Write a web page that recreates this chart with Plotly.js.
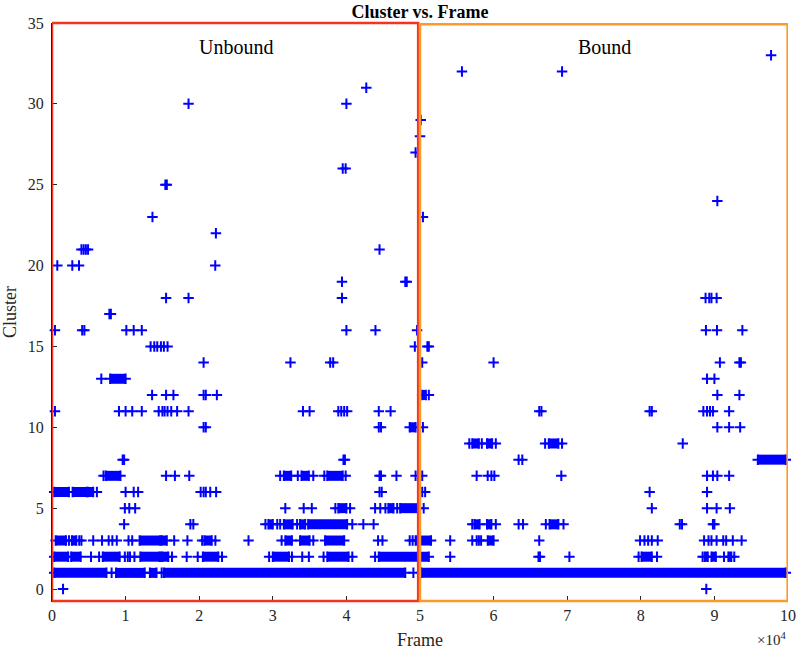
<!DOCTYPE html>
<html>
<head>
<meta charset="utf-8">
<script src="https://cdn.plot.ly/plotly-3.0.1.min.js"></script>
<style>
  html, body { margin: 0; padding: 0; background: #fff; }
  #chart { width: 800px; height: 652px; }
</style>
</head>
<body>
<div id="chart"></div>
<script>
// Cluster id of every frame.
// Single frames: [cluster, frame, frame, ...]
const singleFrames = [
    [0, 1500, 88900],
    [1, 8100, 14900, 49100],
    [2, 5300, 6400, 9900, 10300, 10600, 11200, 14800, 16300, 18300, 19800, 23100, 29500, 32600, 34000, 34900,
        36900, 40800, 43900, 54100, 66100, 66300, 70300, 79700, 82200, 88400, 91300, 92700],
    [3, 2300, 3700, 4000, 5600, 6800, 7700, 8200, 8800, 10400, 10900, 16600, 18400, 20400, 22200, 26700, 31200,
        35500, 44300, 44900, 48600, 49000, 54100, 57100, 57700, 58000, 58300, 66200, 79900, 80500, 81000, 81500,
        82300, 88600, 89200, 89600, 90300, 91200, 91600, 92500, 93700],
    [4, 9800, 18800, 19200, 29000, 30600, 31000, 33300, 40800, 42300, 43700, 57100, 60300, 63400, 64000, 67100,
        69500, 85300, 85600, 89800, 90000],
    [5, 9900, 10500, 11300, 31700, 34200, 35300, 38500, 40500, 43900, 44600, 45300, 46900, 50500, 81500, 89000,
        90300, 92100],
    [6, 6100, 10000, 11100, 11700, 20200, 20600, 20900, 21500, 22300, 44500, 44800, 50300, 50700, 81200, 89000],
    [7, 7000, 15500, 16700, 18650, 31000, 33400, 35500, 37000, 39900, 44500, 44700, 46800, 49400, 50300, 57700,
        59200, 59700, 60100, 69200, 89000, 89800, 90400, 92000],
    [8, 9600, 9800, 39600, 39800, 63400, 63900],
    [9, 56700, 58400, 60300, 67000, 69300, 85700],
    [10, 20600, 20900, 44400, 44700, 50400, 90400, 92000, 93500],
    [11, 400, 9100, 10000, 10900, 12200, 14500, 15000, 15300, 15700, 16200, 17000, 18550, 34100, 35000, 38900,
        39300, 39700, 40100, 44400, 46000, 66200, 66500, 81200, 81500, 88500, 89000, 89400, 89800, 92000],
    [12, 13600, 15500, 16500, 20600, 20900, 22400, 51200, 90400, 93400],
    [13, 6700, 89000, 90000],
    [14, 20600, 32400, 37800, 38200, 50300, 60000, 90750, 93400, 93600],
    [15, 13400, 13900, 14300, 14800, 15200, 15700, 49300, 51000, 51200],
    [16, 400, 4100, 4400, 10100, 11100, 12200, 40000, 43950, 49600, 88850, 90350, 93800],
    [17, 7800, 8000],
    [18, 15500, 18550, 39400, 88800, 89300, 89600, 90300],
    [19, 39400, 48000, 48200],
    [20, 720, 2760, 3670, 22180],
    [21, 4000, 4300, 4600, 4900, 44500],
    [22, 22270],
    [23, 13650, 50400],
    [24, 90400],
    [25, 15400, 15600],
    [26, 39500, 39900],
    [27, 49400],
    [28, 50000],
    [29, 50100],
    [30, 18550, 40000],
    [31, 42700],
    [32, 55700, 69300],
    [33, 97700]
];

// Long unbroken stretches of frames: [cluster, first frame, last frame]
const frameRuns = [
    [1, 300, 7400], [1, 8700, 12600], [1, 13300, 14200], [1, 15200, 48000], [1, 50200, 99700],
    [2, 300, 2200], [2, 2600, 3900], [2, 6900, 9200], [2, 12000, 14600], [2, 15000, 15800], [2, 20500, 22600],
    [2, 30000, 32200], [2, 37400, 40300], [2, 44400, 51200], [2, 80100, 81500], [2, 88700, 89100],
    [2, 89600, 90200], [2, 91900, 92300],
    [3, 500, 1900], [3, 2700, 3300], [3, 11900, 14700], [3, 14900, 15600], [3, 20700, 21700], [3, 31700, 32600],
    [3, 33700, 35000], [3, 37100, 39700], [3, 49400, 51500], [3, 59200, 60000],
    [4, 29400, 30000], [4, 31500, 32700], [4, 33700, 34400], [4, 34800, 40100], [4, 57400, 58100],
    [4, 59100, 59700], [4, 67600, 68800],
    [5, 38900, 40000], [5, 45700, 46400], [5, 47300, 49800],
    [6, 300, 2300], [6, 2800, 4700], [6, 4900, 5600],
    [7, 7300, 9300], [7, 31500, 32500], [7, 33900, 34900], [7, 37400, 39500],
    [8, 95900, 99700],
    [9, 57100, 58000], [9, 59100, 59800], [9, 67500, 68800],
    [10, 48600, 49400],
    [12, 50300, 50800],
    [13, 7900, 10000]
];

const xTickVals = [0, 10000, 20000, 30000, 40000, 50000, 60000, 70000, 80000, 90000, 100000];
const xTickText = ['0', '1', '2', '3', '4', '5', '6', '7', '8', '9', '10'];
const yTickVals = [0, 5, 10, 15, 20, 25, 30, 35];

// =========================================================================

const serif = 'Liberation Serif, Times New Roman, serif';
const blue = '#0000ff';

const plusMarker = {
    symbol: 'cross-thin',
    size: 7.5,
    color: blue,
    line: { color: blue, width: 2 }
};

let runX = [];
let runY = [];
frameRuns.forEach(([cluster, first, last]) => {
    runX.push(first, last, null);
    runY.push(cluster, cluster, null);
});

let pointX = [];
let pointY = [];
singleFrames.forEach(([cluster, ...frames]) => {
    frames.forEach((frame) => {
        pointX.push(frame);
        pointY.push(cluster);
    });
});

const data = [
    {
        x: runX,
        y: runY,
        type: 'scatter',
        mode: 'lines+markers',
        line: { color: blue, width: 10 },
        marker: plusMarker,
        cliponaxis: false,
        hoverinfo: 'x+y'
    },
    {
        x: pointX,
        y: pointY,
        type: 'scatter',
        mode: 'markers',
        marker: plusMarker,
        cliponaxis: false,
        hoverinfo: 'x+y'
    }
];

const layout = {
    width: 800,
    height: 652,
    margin: { l: 52, r: 12, t: 23, b: 51 },
    paper_bgcolor: '#ffffff',
    plot_bgcolor: '#ffffff',
    showlegend: false,
    font: { family: serif, size: 16, color: '#262626' },
    title: {
        text: '<b>Cluster vs. Frame</b>',
        font: { family: serif, size: 18, color: '#000000' },
        xref: 'paper',
        x: 0.5,
        yref: 'container',
        y: 0.982,
        yanchor: 'middle'
    },
    xaxis: {
        range: [0, 100000],
        tickmode: 'array',
        tickvals: xTickVals,
        ticktext: xTickText,
        ticks: 'inside',
        ticklen: 5,
        tickwidth: 1,
        tickcolor: '#262626',
        showgrid: false,
        zeroline: false,
        showline: true,
        linecolor: '#262626',
        tickfont: { family: serif, size: 16, color: '#262626' },
        title: { text: 'Frame', font: { family: serif, size: 18, color: '#262626' }, standoff: 10 }
    },
    yaxis: {
        range: [-0.74, 35],
        tickmode: 'array',
        tickvals: yTickVals,
        ticks: 'inside',
        ticklen: 5,
        tickwidth: 1,
        tickcolor: '#262626',
        showgrid: false,
        zeroline: false,
        showline: true,
        linecolor: '#262626',
        ticklabelstandoff: 4,
        tickfont: { family: serif, size: 16, color: '#262626' },
        title: { text: 'Cluster', font: { family: serif, size: 18, color: '#262626' }, standoff: 8 }
    },
    shapes: [
        {
            type: 'rect', layer: 'above',
            xref: 'x', yref: 'paper',
            x0: 0, x1: 49750, y0: 0, y1: 1,
            line: { color: '#f5331f', width: 2.5 }
        },
        {
            type: 'rect', layer: 'above',
            xref: 'x', yref: 'paper',
            x0: 50000, x1: 99950, y0: 0, y1: 0.998,
            line: { color: '#fd9a28', width: 2.5 }
        }
    ],
    annotations: [
        {
            text: 'Unbound', x: 25000, y: 33.5, xref: 'x', yref: 'y',
            showarrow: false, font: { family: serif, size: 20, color: '#000000' }
        },
        {
            text: 'Bound', x: 75000, y: 33.5, xref: 'x', yref: 'y',
            showarrow: false, font: { family: serif, size: 20, color: '#000000' }
        },
        {
            text: '\u00d710<sup>4</sup>', x: 1, y: -0.066, xref: 'paper', yref: 'paper',
            xanchor: 'right', yanchor: 'middle',
            showarrow: false, font: { family: serif, size: 15, color: '#262626' }
        }
    ]
};

const config = { staticPlot: true, displayModeBar: false };

Plotly.newPlot('chart', data, layout, config);
</script>
</body>
</html>
